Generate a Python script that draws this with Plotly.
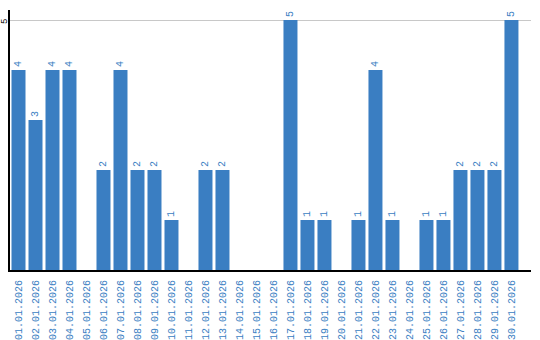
import plotly.graph_objects as go

dates = [f"{d:02d}.01.2026" for d in range(1, 31)]
values = [4, 3, 4, 4, 0, 2, 4, 2, 2, 1, 0, 2, 2, 0, 0, 0, 5, 1, 1, 0, 1, 4, 1, 0, 1, 1, 2, 2, 2, 5]
labels = [str(v) if v else "" for v in values]
ytick_vals = [5]

color = "#3a7ec2"
fig = go.Figure(go.Bar(
    x=dates, y=values, text=labels, textposition="outside", textangle=-90,
    marker_color=color, marker_line_width=0,
    textfont=dict(family="Liberation Mono", size=10, color=color),
    cliponaxis=False,
))
fig.update_layout(
    width=540, height=340, margin=dict(l=10, r=9, t=10, b=70),
    plot_bgcolor="white", paper_bgcolor="white", bargap=3/17,
    showlegend=False,
)
for v in ytick_vals:
    fig.add_annotation(
        x=0, xref="paper", y=v, yref="y", text=str(v), showarrow=False,
        textangle=-90, xanchor="center", yanchor="middle", xshift=-5, yshift=-2,
        borderpad=0,
        font=dict(family="Liberation Mono", size=9, color="black"),
    )
fig.update_xaxes(
    type="category", range=[-0.5, 30.15], tickangle=-90, automargin=False,
    tickfont=dict(family="Liberation Mono", size=10, color=color),
    showline=True, linecolor="black", linewidth=2, showgrid=False, ticks="",
    ticklabelstandoff=4,
)
fig.update_yaxes(
    range=[0, 5.2], tickvals=ytick_vals, showticklabels=False, automargin=False,
    showline=True, linecolor="black", linewidth=2, showgrid=True,
    gridcolor="#c8c8c8", gridwidth=1, zeroline=False, ticks="",
)
fig.write_html("out.html")
